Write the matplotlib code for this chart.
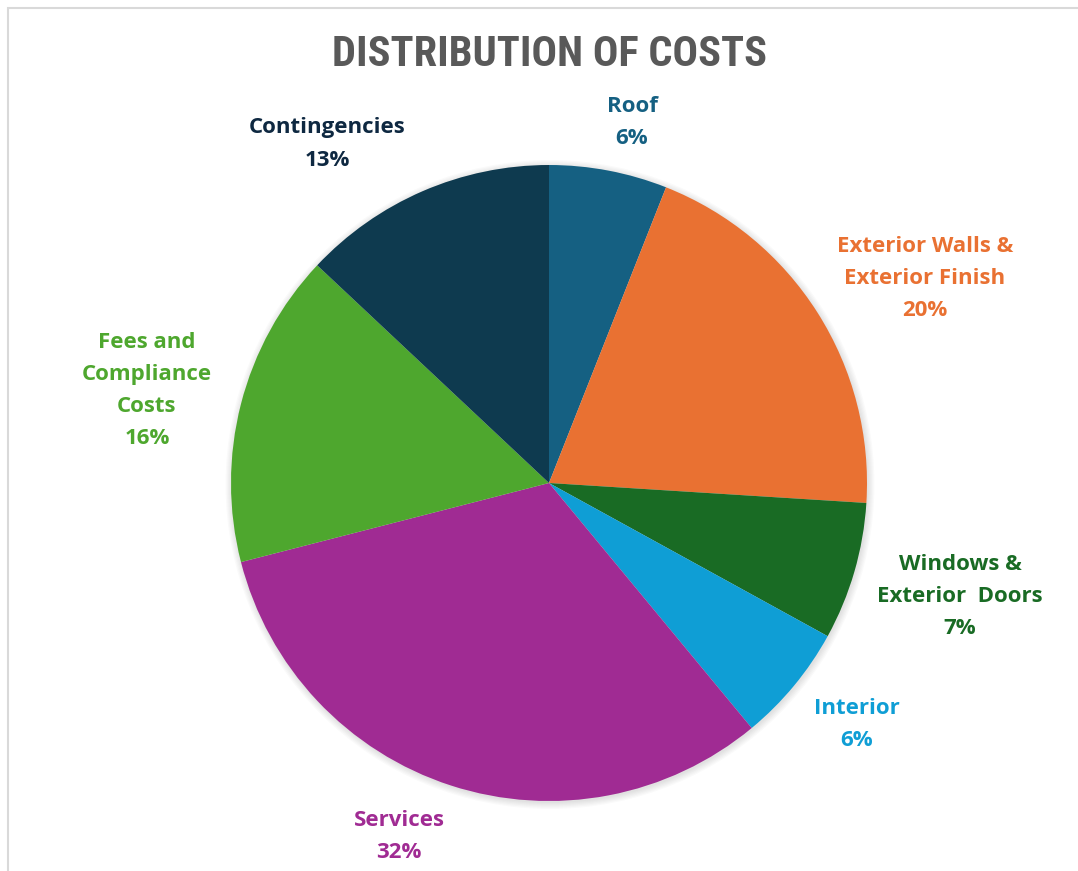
import matplotlib
matplotlib.use("Agg")
import matplotlib.pyplot as plt
from matplotlib.patches import Circle, Rectangle

# data
categories = ["Roof", "Exterior Walls &\nExterior Finish", "Windows &\nExterior  Doors",
              "Interior", "Services", "Fees and\nCompliance\nCosts", "Contingencies"]
shares = [6, 20, 7, 6, 32, 16, 13]

slice_colors = ["#156082", "#E97132", "#196B24", "#0F9ED5", "#A02B93", "#4EA72E", "#0E3A4F"]
label_colors = ["#156082", "#E97132", "#196B24", "#0F9ED5", "#A02B93", "#4EA72E", "#0E2841"]
# label centres in pixel coordinates (x, y of first line)
label_pos = [(632, 106), (925, 246), (960, 565), (857, 709), (399, 820), (147, 343), (327, 128)]

W, H = 1078, 871
fig = plt.figure(figsize=(W / 100, H / 100), dpi=100)
ax = fig.add_axes([0, 0, 1, 1])

cx, cy, r = 549, H - 483, 318

# soft shadow
for i in range(6):
    ax.add_patch(Circle((cx + 1, cy - 1.5), r + 0.5 + i * 1.2, color="black",
                        alpha=0.02, linewidth=0, zorder=1))

ax.pie(shares, colors=slice_colors, startangle=90, counterclock=False,
       radius=r, center=(cx, cy), frame=True,
       wedgeprops=dict(linewidth=0, zorder=2))
ax.set_xlim(0, W)
ax.set_ylim(0, H)
ax.set_aspect("equal")
ax.axis("off")

lab_font = ["Open Sans", "DejaVu Sans"]
line_h = 32
for name, val, col, (px, py) in zip(categories, shares, label_colors, label_pos):
    lines = name.split("\n") + [f"{val}%"]
    for k, ln in enumerate(lines):
        ax.text(px, H - (py + k * line_h), ln, ha="center", va="center",
                fontsize=16, fontweight="bold", color=col, family=lab_font)

ax.text(550, H - 55, "DISTRIBUTION OF COSTS", ha="center", va="center",
        fontsize=30.5, fontweight="bold", color="#595959",
        family=["Roboto Condensed", "Archivo Narrow", "Liberation Sans Narrow", "DejaVu Sans"])

# chart frame (only top and left edges visible)
ax.add_patch(Rectangle((8, -20), W + 40, H - 8 + 20, fill=False,
                       edgecolor="#D9D9D9", linewidth=1.5, zorder=0))

fig.savefig("out.png", dpi=100, facecolor="white")
